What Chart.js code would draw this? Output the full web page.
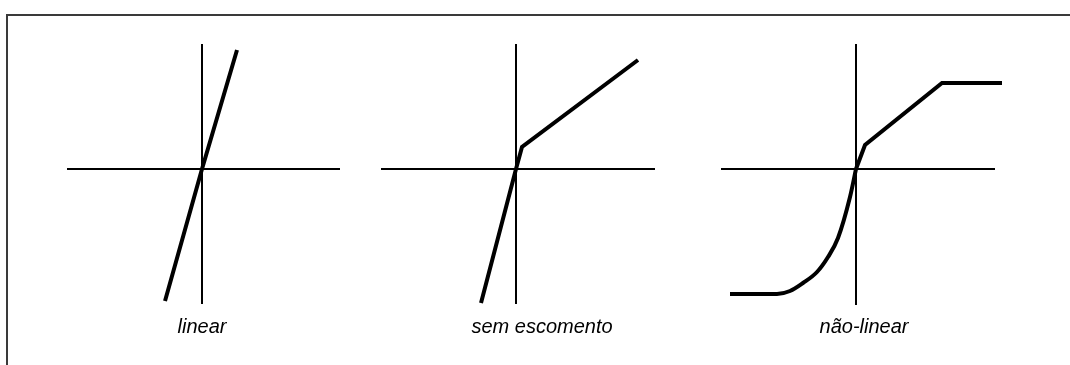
<!DOCTYPE html>
<html>
<head>
<meta charset="utf-8">
<script src="https://cdn.jsdelivr.net/npm/chart.js@4.4.1/dist/chart.umd.min.js"></script>
<style>
  html, body { margin: 0; padding: 0; background: #fff; }
  body { width: 1070px; height: 365px; position: relative; overflow: hidden; }
  .frame { position: absolute; left: 6px; top: 14px; width: 1070px; height: 360px;
           border-top: 2px solid #3a3a3a; border-left: 2px solid #3a3a3a; }
  .panel { position: absolute; top: 20px; width: 340px; height: 325px; }
</style>
</head>
<body>
<div class="frame"></div>
<div class="panel" id="p0"><canvas id="c0"></canvas></div>
<div class="panel" id="p1"><canvas id="c1"></canvas></div>
<div class="panel" id="p2"><canvas id="c2"></canvas></div>
<script>
// ---- Data (abstract units, origin at axes crossing) ----
const panelLabels = ['linear', 'sem escomento', 'não-linear'];

// panel 1: linear
const linearX = [-3.7, 0, 3.5];
const linearY = [-13.2, 0, 11.9];

// panel 2: sem escomento
const semEscX = [-3.5, 0, 0.6, 12.2];
const semEscY = [-13.4, 0, 2.2, 10.9];

// panel 3: não-linear (curved lower part + straight upper part)
const naoLinCurveX = [-12.6, -7.9, -6.6, -5.3, -3.9, -2.8, -1.8, -0.6, 0];
const naoLinCurveY = [-12.5, -12.5, -12.2, -11.4, -10.3, -8.8, -6.9, -2.8, 0];
const naoLinUpperX = [0, 0.9, 8.6, 14.6];
const naoLinUpperY = [0, 2.4, 8.6, 8.6];

// axis extents per panel: [xLeft, xRight], [yBottom, yTop]
const axisXExtent = [[-13.5, 13.8], [-13.5, 13.9], [-13.5, 13.9]];
const axisYExtent = [[-13.5, 12.5], [-13.5, 12.5], [-13.6, 12.5]];

// ---- Build ----
function pts(xs, ys) { return xs.map((x, i) => ({ x: x, y: ys[i] })); }

const panelCurves = [
  [{ data: pts(linearX, linearY), smooth: false }],
  [{ data: pts(semEscX, semEscY), smooth: false }],
  [{ data: pts(naoLinCurveX, naoLinCurveY), smooth: true },
   { data: pts(naoLinUpperX, naoLinUpperY), smooth: false }]
];

// layout (pixels): origin x of each panel and centre x of its caption
const originPx = [202, 516, 856];
const captionPx = [202, 542, 864];
const PANEL_W = 340, PX_PER_UNIT = 10;

function axisDataset(points) {
  return {
    data: points, borderColor: '#000', borderWidth: 2, pointRadius: 0,
    fill: false, tension: 0, borderCapStyle: 'butt', order: 2
  };
}

for (let i = 0; i < 3; i++) {
  const left = captionPx[i] - PANEL_W / 2;
  const wrap = document.getElementById('p' + i);
  wrap.style.left = left + 'px';
  const xMin = (left - originPx[i]) / PX_PER_UNIT;
  const xMax = xMin + PANEL_W / PX_PER_UNIT;

  const datasets = [];
  datasets.push(axisDataset([{ x: axisXExtent[i][0], y: 0 }, { x: axisXExtent[i][1], y: 0 }]));
  datasets.push(axisDataset([{ x: 0, y: axisYExtent[i][0] }, { x: 0, y: axisYExtent[i][1] }]));
  panelCurves[i].forEach(c => {
    datasets.push({
      data: c.data, borderColor: '#000', borderWidth: 4, pointRadius: 0, fill: false,
      tension: 0, cubicInterpolationMode: c.smooth ? 'monotone' : 'default',
      borderJoinStyle: 'miter', borderCapStyle: 'butt', order: 1
    });
  });

  new Chart(document.getElementById('c' + i), {
    type: 'scatter',
    data: { datasets: datasets },
    options: {
      responsive: true, maintainAspectRatio: false, animation: false,
      showLine: true,
      layout: { padding: 0 },
      plugins: {
        legend: { display: false },
        tooltip: { enabled: false },
        title: {
          display: true, position: 'bottom', text: panelLabels[i], color: '#000',
          font: { family: '"Liberation Sans", Arial, sans-serif', size: 20, style: 'italic', weight: 'normal', lineHeight: 1.2 },
          padding: { top: 5, bottom: 6 }
        }
      },
      scales: {
        x: { type: 'linear', display: false, min: xMin, max: xMax },
        y: { type: 'linear', display: false, min: -14.1, max: 14.9 }
      }
    }
  });
}
</script>
</body>
</html>
